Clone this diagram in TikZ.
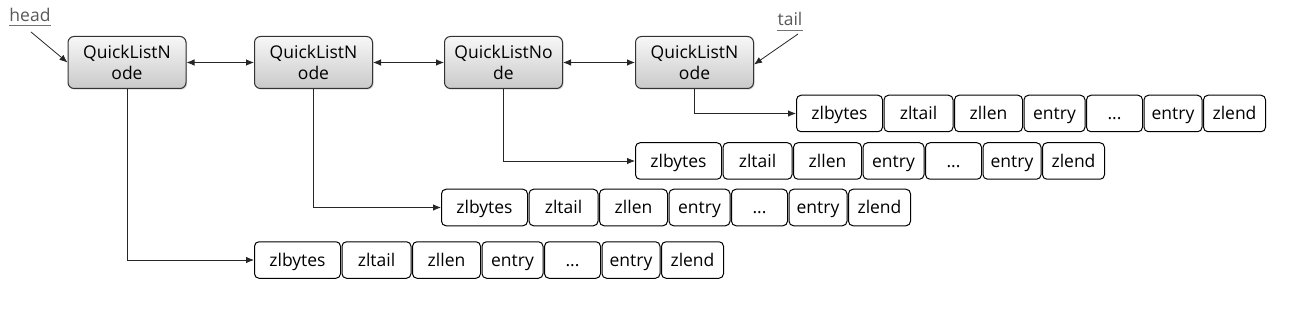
\documentclass[tikz,border=0pt]{standalone}
\usepackage{fontspec}
\setmainfont{Open Sans}
\usetikzlibrary{arrows.meta,shadows}
\tikzset{
  basefont/.style={font=\fontsize{17.5}{21}\selectfont},
  qnode/.style={basefont, draw=black!80, line width=1pt, rounded corners=6pt,
    top color=gray!6, bottom color=gray!42, minimum width=118pt, minimum height=52pt,
    inner sep=0pt, align=center, drop shadow={shadow xshift=1.2pt, shadow yshift=-1.2pt, opacity=0.3}},
  zcell/.style={basefont, draw=black, line width=1pt, rounded corners=4.5pt, minimum height=36.5pt,
    text height=15pt, text depth=2pt, inner sep=0pt, fill=white},
  arr/.style={draw=black!85, line width=0.8pt, -{Latex[length=8pt,width=6.5pt]}},
  darr/.style={draw=black!85, line width=0.8pt, {Latex[length=8pt,width=6.5pt]}-{Latex[length=8pt,width=6.5pt]}},
  lbl/.style={basefont, text=black!65, inner sep=0pt}
}
\newcommand\zdots{...}
\newcommand\zrow[3]{%
  \foreach \t/\w/\o [count=\i] in {zlbytes/86/0, zltail/69/87.5, zllen/68/158, entry/61/227.5, \zdots/56/290, entry/58/347.5, zlend/62/407}{
    \node[zcell, minimum width=\w pt, anchor=west] (#1\i) at (#2+\o, #3) {\t};
  }%
}
\begin{document}
\begin{tikzpicture}[x=1pt, y=-1pt]
\useasboundingbox (0,0) rectangle (1306,315);

\node[qnode] (q1) at (127,62.5) {QuickListN\\ode};
\node[qnode] (q2) at (313.5,62.5) {QuickListN\\ode};
\node[qnode] (q3) at (503.5,62.5) {QuickListNo\\de};
\node[qnode] (q4) at (694.5,62.5) {QuickListN\\ode};

\zrow{ra}{796}{113.5}
\zrow{rb}{635}{161}
\zrow{rc}{441}{207.5}
\zrow{rd}{254}{260}

\draw[darr] (q1.east) -- (q2.west);
\draw[darr] (q2.east) -- (q3.west);
\draw[darr] (q3.east) -- (q4.west);

\draw[arr] (q4.south) |- (ra1.west);
\draw[arr] (q3.south) |- (rb1.west);
\draw[arr] (q2.south) |- (rc1.west);
\draw[arr] (q1.south) |- (rd1.west);

\node[lbl] (head) at (30,15) {head};
\draw[black!55, line width=0.8pt] ([yshift=-3pt]head.south west) -- ([yshift=-3pt]head.south east);
\coordinate (hs) at (31,32);
\draw[arr] (hs) -- (q1.west);

\node[lbl] (tail) at (790,19) {tail};
\draw[black!55, line width=0.8pt] ([yshift=-4pt]tail.south west) -- ([yshift=-4pt]tail.south east);
\coordinate (ts) at (798,34);
\draw[arr] (ts) -- ([yshift=-2pt]q4.east);
\end{tikzpicture}
\end{document}
